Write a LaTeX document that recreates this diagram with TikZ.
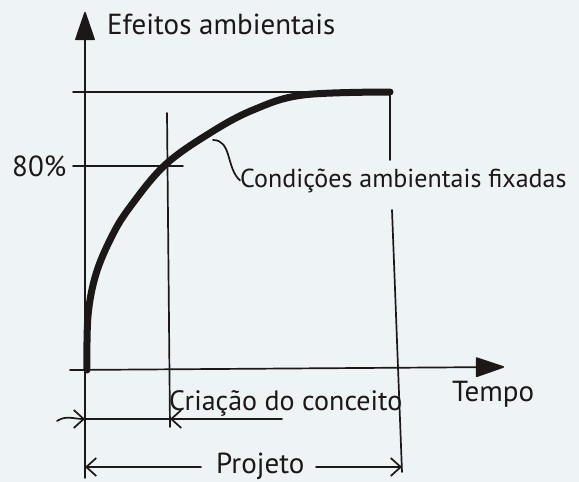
\documentclass[tikz,border=0pt]{standalone}
\usepackage{fontspec}
\setmainfont{PT Sans}
\usetikzlibrary{arrows.meta}
\definecolor{fundo}{RGB}{238,244,245}
\definecolor{tinta}{RGB}{28,24,24}
\begin{document}
\begin{tikzpicture}[x=1pt,y=-1pt,
	linha/.style={line width=1.7pt,draw=tinta,line cap=round},
	eixo/.style={linha,-{Triangle[length=30pt,width=20pt,round]}},
	cota/.style={linha,-{Straight Barb[length=10pt,width=18pt]}},
	texto/.style={anchor=base west,inner sep=0pt,text=tinta,font=\fontsize{29}{33}\selectfont}]
	\fill[fundo](0,0) rectangle (579,482);
	\useasboundingbox (0,0) rectangle (579,482);
	% eixos
	\draw[eixo](85,478)--(85,12);
	\draw[eixo](70,370)--(504,367);
	% linhas de referencia
	\draw[linha](73,92)--(390,92);
	\draw[linha](73,166)--(183,166);
	\draw[linha](167,113)--(170,427);
	\draw[linha](390,92)--(390,160);
	\draw[linha](392,210)--(402,472);
	% curva
	\draw[line width=7pt,tinta,line cap=round] plot[smooth,tension=0.6] coordinates{(87,370)(88,316)(96,274)(112,236)(130,207)(165,165)(210,133)(253,110)(303,95)(390,92)};
	% textos
	\node[texto] (efeitos) at (107,34) {Efeitos ambientais};
	\node[texto] (oitenta) at (12,176) {80\%};
	\node[texto,font=\fontsize{26}{30}\selectfont] (condicoes) at (240,187) {Condições ambientais fixadas};
	\node[texto,font=\fontsize{28}{32}\selectfont] (criacao) at (169,410) {Criação do conceito};
	\node[texto] (tempo) at (452,401) {Tempo};
	\node[texto] (projeto) at (216,473) {Projeto};
	% chamada
	\coordinate (ponto) at (213,140);
	\draw[linha](ponto) .. controls (232,140) and (226,168) .. (condicoes.west);
	% cotas
	\coordinate (inicio) at (85,419);
	\coordinate (conceito) at (170,419);
	\coordinate (fim) at (402,467);
	\draw[cota](57,421) .. controls (66,415) and (74,419) .. (inicio);
	\draw[cota](282,419)--(conceito);
	\draw[linha](conceito)--(inicio);
	\draw[cota](201,467)--(85,467);
	\draw[cota](316,467)--(fim);
\end{tikzpicture}
\end{document}
